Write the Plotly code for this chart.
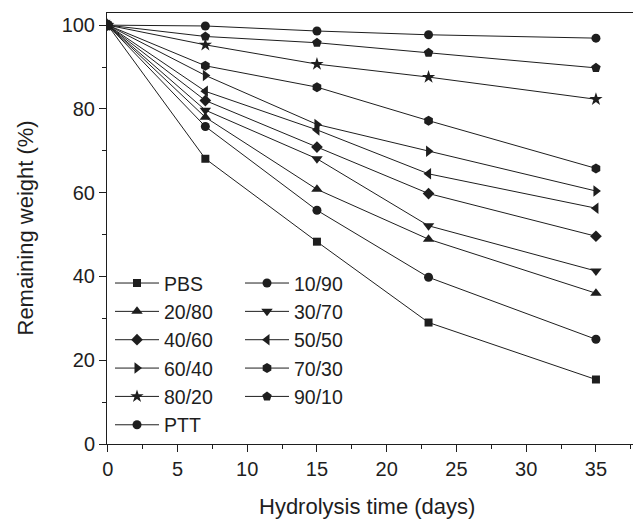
import plotly.graph_objects as go

days = [0, 7, 15, 23, 35]

series_names = ["PBS", "10/90", "20/80", "30/70", "40/60", "50/50",
                "60/40", "70/30", "80/20", "90/10", "PTT"]

pbs = [100, 68.1, 48.3, 29.0, 15.4]
b10_90 = [100, 75.8, 55.8, 39.8, 25.0]
b20_80 = [100, 78.0, 60.8, 48.9, 36.0]
b30_70 = [100, 79.7, 68.1, 52.1, 41.3]
b40_60 = [100, 82.0, 70.9, 59.8, 49.6]
b50_50 = [100, 84.2, 75.0, 64.5, 56.3]
b60_40 = [100, 88.0, 76.3, 69.9, 60.4]
b70_30 = [100, 90.3, 85.2, 77.2, 65.8]
b80_20 = [100, 95.3, 90.7, 87.6, 82.3]
b90_10 = [100, 97.3, 95.8, 93.4, 89.8]
ptt = [100, 99.8, 98.6, 97.7, 96.9]

values = [pbs, b10_90, b20_80, b30_70, b40_60, b50_50,
          b60_40, b70_30, b80_20, b90_10, ptt]

symbols = ["square", "circle", "triangle-up", "triangle-down", "diamond",
           "triangle-left", "triangle-right", "hexagon", "star", "pentagon",
           "circle"]
sizes = [8, 9, 10, 10, 9, 10, 10, 10, 10, 10, 9]

x_ticks = [0, 5, 10, 15, 20, 25, 30, 35]
y_ticks = [0, 20, 40, 60, 80, 100]

INK = "#1e1e1e"
FONT = "Liberation Sans, Arial, sans-serif"

# Figure slightly wider than the 633 px window so the frame's right edge
# falls outside the visible area, as in the cropped reference.
FIG_W = 645
PLOT_W = FIG_W - 107
X_MAX = -0.05 + PLOT_W / 13.95

fig = go.Figure()
for i, (name, vals) in enumerate(zip(series_names, values)):
    fig.add_trace(go.Scatter(
        x=days, y=vals, name=name, mode="lines+markers",
        line=dict(color=INK, width=1),
        marker=dict(symbol=symbols[i], size=sizes[i], color=INK,
                    line=dict(width=0)),
        legend="legend" if i % 2 == 0 else "legend2",
        legendgroup=name,
    ))

legend_common = dict(
    font=dict(family=FONT, size=19.5, color=INK),
    bgcolor="rgba(0,0,0,0)", borderwidth=0,
    itemwidth=44, tracegroupgap=0,
    xref="paper", yref="paper", xanchor="left", yanchor="top",
)

lx = 3 / PLOT_W
fig.update_layout(
    width=FIG_W, height=521,
    margin=dict(l=107, r=0, t=13, b=77, autoexpand=False),
    paper_bgcolor="white", plot_bgcolor="white",
    font=dict(family=FONT, size=20, color=INK),
    showlegend=True,
    legend=dict(x=lx, y=0.418, **legend_common),
    legend2=dict(x=lx + 130 / PLOT_W, y=0.418, **legend_common),
    xaxis=dict(
        range=[-0.05, X_MAX], tickvals=x_ticks, ticktext=[str(v) for v in x_ticks],
        showgrid=False, zeroline=False, automargin=False,
        showline=True, linecolor=INK, linewidth=1, mirror=True,
        ticks="outside", ticklen=7, tickwidth=1, tickcolor=INK,
        minor=dict(tickvals=[2.5, 7.5, 12.5, 17.5, 22.5, 27.5, 32.5, 37.5],
                   ticks="outside", ticklen=4, tickwidth=1, tickcolor=INK,
                   showgrid=False),
        tickfont=dict(size=20, color=INK),
    ),
    yaxis=dict(
        range=[0, 102.9], tickvals=y_ticks, ticktext=[str(v) for v in y_ticks],
        showgrid=False, zeroline=False, automargin=False,
        showline=True, linecolor=INK, linewidth=1, mirror=False,
        ticks="outside", ticklen=7, tickwidth=1, tickcolor=INK,
        minor=dict(tickvals=[10, 30, 50, 70, 90],
                   ticks="outside", ticklen=4, tickwidth=1, tickcolor=INK,
                   showgrid=False),
        tickfont=dict(size=20, color=INK),
    ),
    annotations=[
        dict(text="Hydrolysis time (days)", xref="paper", yref="paper",
             x=(367 - 107) / PLOT_W, y=-0.145, xanchor="center", yanchor="middle",
             showarrow=False, font=dict(size=22, color=INK)),
        dict(text="Remaining weight (%)", xref="paper", yref="paper",
             x=(25 - 107) / PLOT_W, y=0.5, xanchor="center", yanchor="middle",
             textangle=-90, showarrow=False, font=dict(size=22, color=INK)),
    ],
)

fig.write_html(
    "out.html",
    config={"displayModeBar": False},
    post_script="document.body.style.margin='0px';document.body.style.padding='0px';document.body.style.overflow='hidden';",
)
